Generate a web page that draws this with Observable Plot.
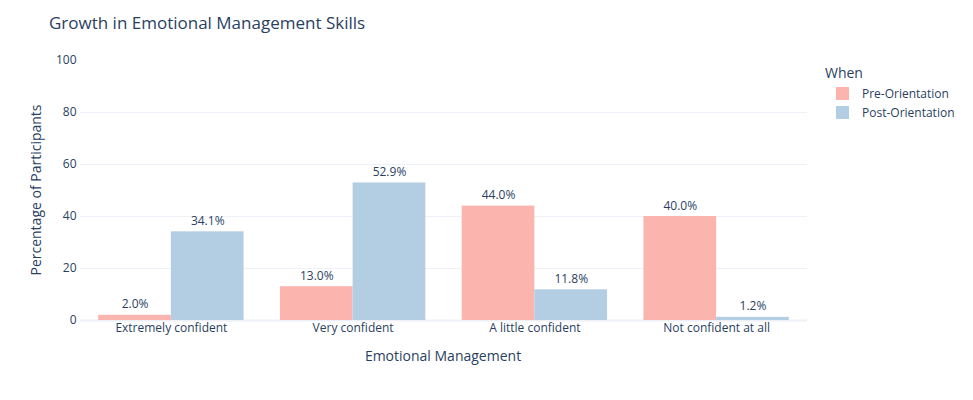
<!DOCTYPE html>
<html>
<head>
<meta charset="utf-8">
<script src="https://cdn.jsdelivr.net/npm/d3@7"></script>
<script src="https://cdn.jsdelivr.net/npm/@observablehq/plot@0.6"></script>
<style>
  body { margin: 0; background: #fff; }
  #wrap { position: relative; width: 973px; height: 400px; font-family: "Open Sans", sans-serif; color: #2a3f5f; }
  .abs { position: absolute; white-space: nowrap; }
  #title { left: 49px; top: 11px; font-size: 17px; }
  #ytitle { left: 35px; top: 190px; font-size: 14px; transform: translate(-50%, -50%) rotate(-90deg); }
  #xtitle { left: 443px; top: 346px; font-size: 14px; transform: translateX(-50%); }
  #legend { left: 825px; top: 63px; font-size: 12px; }
  #legend .lt { font-size: 14px; margin-bottom: 2px; }
  #legend .item { display: flex; align-items: center; height: 19px; padding-left: 11px; }
  #legend .sw { width: 13px; height: 13px; margin-right: 13px; }
</style>
</head>
<body>
<div id="wrap">
  <div id="chart"></div>
  <div class="abs" id="title">Growth in Emotional Management Skills</div>
  <div class="abs" id="ytitle">Percentage of Participants</div>
  <div class="abs" id="xtitle">Emotional Management</div>
  <div class="abs" id="legend"></div>
</div>
<script>
const categories = ["Extremely confident", "Very confident", "A little confident", "Not confident at all"];
const series = ["Pre-Orientation", "Post-Orientation"];
const preValues = [2.0, 13.0, 44.0, 40.0];
const postValues = [34.1, 52.9, 11.8, 1.2];
const colors = ["#FBB4AE", "#B3CDE3"];
const yTicks = [0, 20, 40, 60, 80, 100];
const gridTicks = [20, 40, 60, 80];

const rows = [];
categories.forEach((c, i) => {
  rows.push({cat: c, idx: i, s: 0, series: series[0], value: preValues[i]});
  rows.push({cat: c, idx: i, s: 1, series: series[1], value: postValues[i]});
});
const groupHalf = 0.4;

const chart = Plot.plot({
  width: 973,
  height: 400,
  marginTop: 60,
  marginBottom: 80,
  marginLeft: 80,
  marginRight: 166,
  style: {fontFamily: "'Open Sans', sans-serif", fontSize: "12px", color: "#2a3f5f", background: "#fff"},
  x: {type: "linear", domain: [-0.5, categories.length - 0.5], axis: null},
  y: {type: "linear", domain: [0, 100], axis: null},
  color: {domain: series, range: colors},
  marks: [
    Plot.ruleY(gridTicks, {y: d => d, stroke: "#eef1f8", strokeOpacity: 1}),
    Plot.ruleY([0], {y: d => d, stroke: "#eef1f8", strokeWidth: 2}),
    Plot.rectY(rows, {
      x1: d => d.idx - groupHalf + d.s * groupHalf,
      x2: d => d.idx + d.s * groupHalf,
      y1: 0,
      y2: "value",
      fill: "series",
      inset: 0
    }),
    Plot.text(rows, {
      x: d => d.idx - groupHalf / 2 + d.s * groupHalf,
      y: "value",
      text: d => d.value.toFixed(1) + "%",
      lineAnchor: "bottom",
      dy: -7,
      fill: "#2a3f5f",
      fontSize: 12
    }),
    Plot.text(yTicks, {
      y: d => d,
      frameAnchor: "left",
      textAnchor: "end",
      dx: -4,
      text: d => String(d),
      fill: "#2a3f5f",
      fontSize: 12
    }),
    Plot.text(categories, {
      x: (d, i) => i,
      y: 0,
      text: d => d,
      lineAnchor: "top",
      dy: 3,
      fill: "#2a3f5f",
      fontSize: 12
    })
  ]
});
document.getElementById("chart").appendChild(chart);

const legend = document.getElementById("legend");
legend.innerHTML = '<div class="lt">When</div>' + series.map((s, i) =>
  `<div class="item"><div class="sw" style="background:${colors[i]}"></div><span>${s}</span></div>`).join("");
</script>
</body>
</html>
